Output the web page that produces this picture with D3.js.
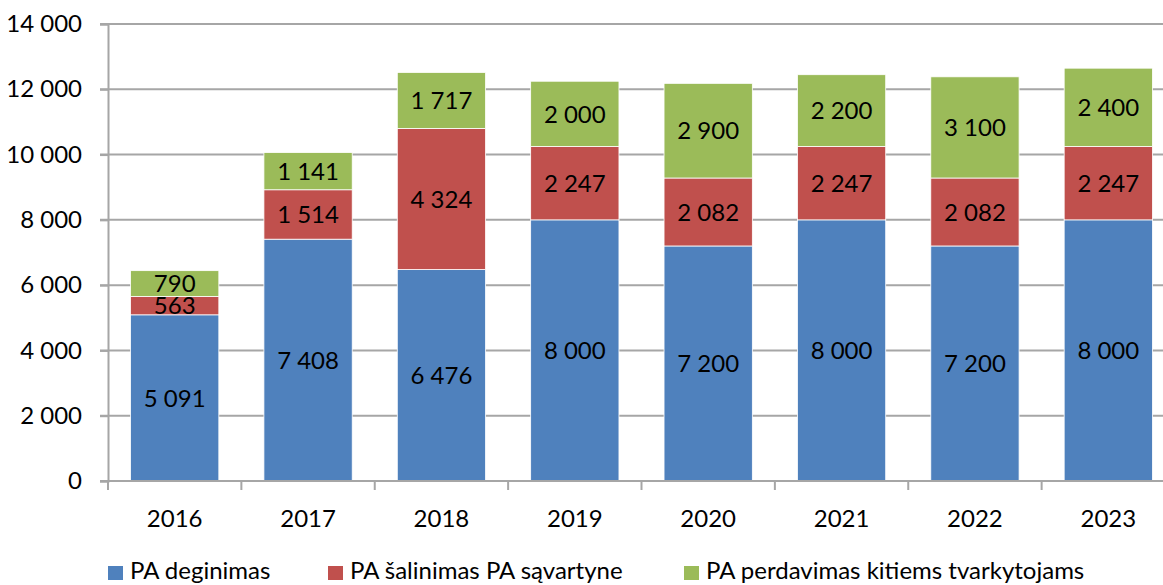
<!DOCTYPE html>
<html>
<head>
<meta charset="utf-8">
<script src="https://cdn.jsdelivr.net/npm/d3@7"></script>
<style>
  body { margin: 0; background: #fff; }
  text { font-family: Lato, "Open Sans", sans-serif; fill: #000; }
</style>
</head>
<body>
<div id="chart"></div>
<script>
// data
var years = ["2016", "2017", "2018", "2019", "2020", "2021", "2022", "2023"];
var deginimas = [5091, 7408, 6476, 8000, 7200, 8000, 7200, 8000];
var salinimas = [563, 1514, 4324, 2247, 2082, 2247, 2082, 2247];
var perdavimas = [790, 1141, 1717, 2000, 2900, 2200, 3100, 2400];
var seriesNames = ["PA deginimas", "PA šalinimas PA sąvartyne", "PA perdavimas kitiems tvarkytojams"];
var yTicks = [0, 2000, 4000, 6000, 8000, 10000, 12000, 14000];

var colors = ["#4F81BD", "#C0504D", "#9BBB59"];

var W = 1163, H = 585;
var plotLeft = 108, plotRight = 1175, plotTop = 24, plotBottom = 481;

var lt = d3.formatLocale({decimal: ",", thousands: " ", grouping: [3], currency: ["", ""]});
var fmt = lt.format(",d");

var svg = d3.select("#chart").append("svg")
  .attr("width", W)
  .attr("height", H);

var x = d3.scaleBand()
  .domain(years)
  .range([plotLeft, plotRight])
  .paddingInner(0.338)
  .paddingOuter(0.169);

var y = d3.scaleLinear()
  .domain([0, 14000])
  .range([plotBottom, plotTop]);

// gridlines
svg.append("g")
  .selectAll("line")
  .data(yTicks)
  .enter()
  .append("line")
  .attr("x1", plotLeft - 8)
  .attr("x2", plotRight)
  .attr("y1", function(d) { return y(d); })
  .attr("y2", function(d) { return y(d); })
  .style("stroke", "#A6A6A6")
  .style("stroke-width", 2);

// stacked data
var table = years.map(function(yr, i) {
  return {year: yr, a: deginimas[i], b: salinimas[i], c: perdavimas[i]};
});
var stack = d3.stack().keys(["a", "b", "c"]);
var layers = stack(table);

var groups = svg.append("g")
  .selectAll("g")
  .data(layers)
  .enter()
  .append("g")
  .style("fill", function(d, i) { return colors[i]; });

groups.selectAll("rect")
  .data(function(d) { return d; })
  .enter()
  .append("rect")
  .attr("x", function(d) { return x(d.data.year); })
  .attr("width", x.bandwidth())
  .attr("y", function(d) { return y(d[1]); })
  .attr("height", function(d) { return y(d[0]) - y(d[1]); })
  .style("stroke", "#fff")
  .style("stroke-width", 0.8);

// value labels
groups.selectAll("text")
  .data(function(d) { return d; })
  .enter()
  .append("text")
  .attr("x", function(d) { return x(d.data.year) + x.bandwidth() / 2; })
  .attr("y", function(d) { return (y(d[0]) + y(d[1])) / 2; })
  .attr("dy", "0.36em")
  .attr("text-anchor", "middle")
  .style("font-size", "24px")
  .style("fill", "#000")
  .text(function(d) { return fmt(d[1] - d[0]); });

// y axis
var yAxis = svg.append("g")
  .attr("transform", "translate(" + plotLeft + ",0)")
  .call(d3.axisLeft(y).tickValues(yTicks).tickSize(8).tickPadding(18).tickFormat(fmt));
yAxis.select(".domain").style("stroke", "#A6A6A6").style("stroke-width", 2);
yAxis.selectAll(".tick line").style("stroke", "#A6A6A6").style("stroke-width", 2);
yAxis.selectAll("text").style("font-size", "24px").style("font-family", "Lato, sans-serif");

// x axis line and ticks between categories
var xAxis = svg.append("g");
xAxis.append("line")
  .attr("x1", plotLeft - 8).attr("x2", plotRight)
  .attr("y1", plotBottom).attr("y2", plotBottom)
  .style("stroke", "#A6A6A6").style("stroke-width", 2);
xAxis.selectAll(".xt")
  .data(d3.range(years.length + 1))
  .enter()
  .append("line")
  .attr("x1", function(i) { return plotLeft + i * x.step(); })
  .attr("x2", function(i) { return plotLeft + i * x.step(); })
  .attr("y1", plotBottom)
  .attr("y2", plotBottom + 9)
  .style("stroke", "#A6A6A6").style("stroke-width", 2);
xAxis.selectAll("text")
  .data(years)
  .enter()
  .append("text")
  .attr("x", function(d) { return x(d) + x.bandwidth() / 2; })
  .attr("y", 527)
  .attr("text-anchor", "middle")
  .style("font-size", "24px")
  .text(function(d) { return d; });

// legend
var legendX = [108, 328, 684];
var legend = svg.append("g")
  .selectAll("g")
  .data(seriesNames)
  .enter()
  .append("g")
  .attr("transform", function(d, i) { return "translate(" + legendX[i] + ",566)"; });
legend.append("rect")
  .attr("width", 15)
  .attr("height", 14)
  .style("fill", function(d, i) { return colors[i]; });
legend.append("text")
  .attr("x", 22)
  .attr("y", 13)
  .style("font-size", "24px")
  .text(function(d) { return d; });
</script>
</body>
</html>
